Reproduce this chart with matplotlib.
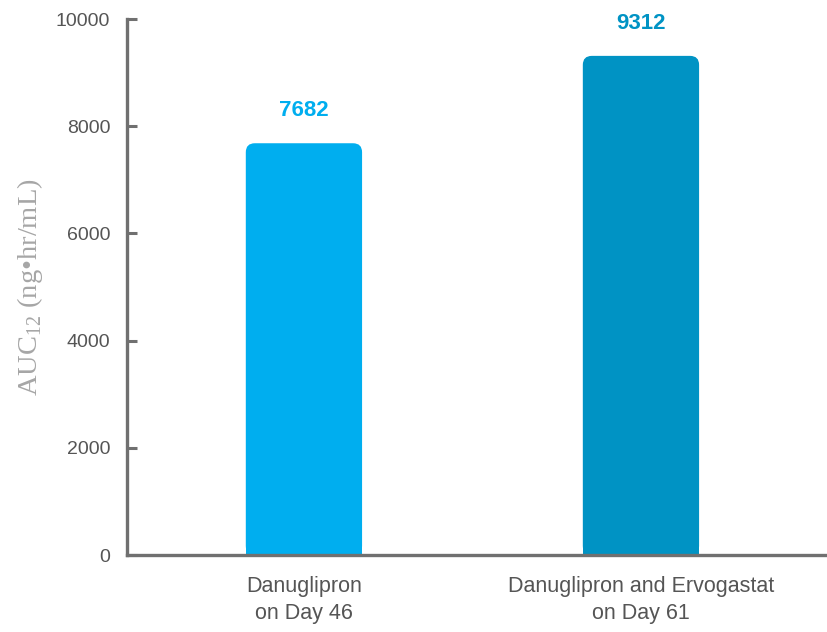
import matplotlib.pyplot as plt
from matplotlib.patches import FancyBboxPatch

plt.rcParams['font.family'] = ['Liberation Sans', 'DejaVu Sans']
plt.rcParams['mathtext.fontset'] = 'custom'
plt.rcParams['mathtext.rm'] = 'Liberation Serif'

groups = ["Danuglipron\non Day 46", "Danuglipron and Ervogastat\non Day 61"]
auc = [7682, 9312]
colors = ["#00AEEF", "#0093C4"]
yticks = [0, 2000, 4000, 6000, 8000, 10000]

axis_gray = "#707070"

fig = plt.figure(figsize=(8.28, 6.32), dpi=100)
ax = fig.add_axes([127 / 828, 1 - 555 / 632, 1 - 127 / 828, (555 - 19) / 632])

pos = list(range(len(groups)))
bars = ax.bar(pos, auc, width=0.345, color=colors, zorder=2)

# rounded top corners: rounded box over the full bar, plain rect keeps the base square
ax.set_xlim(-0.525, 1.555)
ax.set_ylim(0, 10000)
fig.canvas.draw()
px_x = ax.transData.transform((1, 0))[0] - ax.transData.transform((0, 0))[0]
px_y = ax.transData.transform((0, 1000))[1] - ax.transData.transform((0, 0))[1]
r_px = 9
for rect, c in zip(bars, colors):
    x0, w, h = rect.get_x(), rect.get_width(), rect.get_height()
    box = FancyBboxPatch((x0, 0), w, h,
                         boxstyle=f"round,pad=0,rounding_size={r_px / px_x}",
                         mutation_aspect=(1000 / px_y) / (1 / px_x),
                         facecolor=c, edgecolor="none", zorder=2)
    ax.add_patch(box)
    rect.set_height(h / 2)

for p, v, c in zip(pos, auc, colors):
    ax.annotate(str(v), (p, v), xytext=(0, 16), textcoords="offset points",
                ha="center", va="bottom", fontsize=16, fontweight="bold", color=c)

ax.set_xticks(pos)
ax.set_xticklabels(groups, fontsize=15.5, color="#555555", linespacing=1.4)
ax.set_yticks(yticks)
ax.set_yticklabels([str(t) for t in yticks], fontsize=14, color="#555555")

ax.tick_params(axis="y", direction="in", length=7, width=2.2, color=axis_gray, pad=12)
ax.tick_params(axis="x", length=0, pad=15)

for side in ["top", "right"]:
    ax.spines[side].set_visible(False)
for side in ["left", "bottom"]:
    ax.spines[side].set_color(axis_gray)
    ax.spines[side].set_linewidth(2.4)
    ax.spines[side].set_zorder(3)

ax.set_ylabel(r"AUC$_{12}$ (ng•hr/mL)", fontsize=20.5, color="#a6a6a6",
              family="Liberation Serif", labelpad=8)

fig.savefig("out.png", dpi=100)
